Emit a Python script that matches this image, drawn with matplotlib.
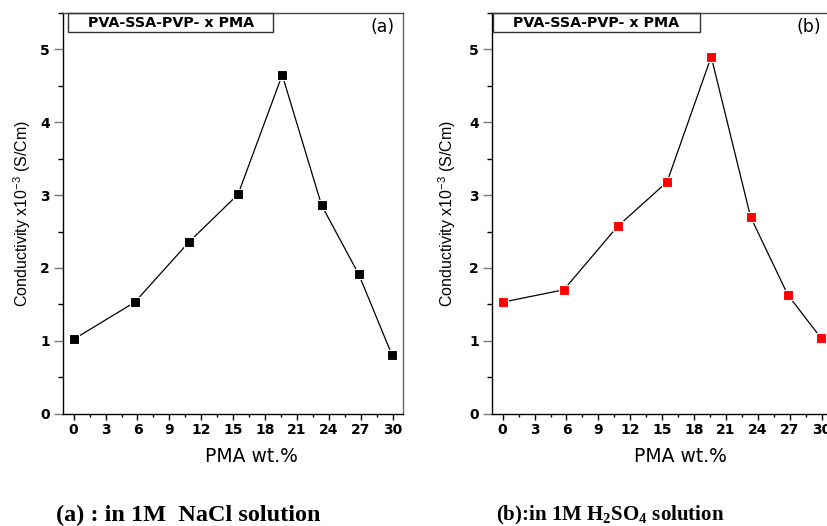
import matplotlib
matplotlib.use("Agg")
import matplotlib.pyplot as plt
from matplotlib.patches import Rectangle
from matplotlib.ticker import MultipleLocator

# PMA content (wt.%) and conductivity (x10^-3 S/Cm)
pma_wt = [0, 5.75, 10.8, 15.45, 19.6, 23.3, 26.8, 29.9]
cond_nacl = [1.02, 1.53, 2.35, 3.01, 4.65, 2.86, 1.91, 0.81]
cond_h2so4 = [1.53, 1.70, 2.57, 3.18, 4.90, 2.70, 1.63, 1.04]

x_ticks = [0, 3, 6, 9, 12, 15, 18, 21, 24, 27, 30]
y_ticks = [0, 1, 2, 3, 4, 5]

legend_text = "PVA-SSA-PVP- x PMA"
panel_tags = ["(a)", "(b)"]
captions = ["(a) : in 1M  NaCl solution",
            r"(b):in 1M H$_{\mathregular{2}}$SO$_{\mathregular{4}}$ solution"]

W, H = 828, 526
fig = plt.figure(figsize=(W / 100, H / 100), dpi=100)

sans = "DejaVu Sans"
arial = "Liberation Sans"
serif = "Liberation Serif"

panels = [
    dict(left=63, y=cond_nacl, color="black", box=(0.015, 0.618), ylab_x=-0.119),
    dict(left=492, y=cond_h2so4, color="#ff0000", box=(0.003, 0.612), ylab_x=-0.131),
]

ax_w, ax_bottom, ax_top = 340, 413.6, 13

for i, p in enumerate(panels):
    ax = fig.add_axes([p["left"] / W, (H - ax_bottom) / H, ax_w / W, (ax_bottom - ax_top) / H])
    ax.plot(pma_wt, p["y"], color="black", lw=0.9, marker="s", ms=7.5,
            mfc=p["color"], mec="white", mew=0.8, zorder=3)
    ax.set_xlim(-1.0, 30.95)
    ax.set_ylim(0, 5.5)
    ax.set_xticks(x_ticks)
    ax.set_yticks(y_ticks)
    ax.xaxis.set_minor_locator(MultipleLocator(1.5))
    ax.yaxis.set_minor_locator(MultipleLocator(0.5))
    ax.tick_params(axis="x", which="major", direction="out", length=4, width=1.0, pad=3,
                   labelsize=10)
    ax.tick_params(axis="x", which="minor", direction="out", length=2.5, width=1.0)
    ax.tick_params(axis="y", which="major", direction="out", length=6.5, width=1.0, pad=3,
                   color="#777777", labelsize=10)
    ax.tick_params(axis="y", which="minor", direction="out", length=3.5, width=1.0)
    for lab in ax.get_xticklabels() + ax.get_yticklabels():
        lab.set_fontweight("bold")
        lab.set_fontfamily(sans)
    for s in ax.spines.values():
        s.set_linewidth(1.0)
    ax.spines["right"].set_color("#666666")
    ax.spines["top"].set_color("#444444")

    ax.set_xlabel("PMA wt.%", fontsize=13.5, family=sans)
    ax.xaxis.set_label_coords(0.553, -0.084)
    ax.set_ylabel(r"Conductivity x10$^{\mathregular{-3}}$ (S/Cm)", fontsize=11.5,
                  family=arial, va="center", ha="center")
    ax.yaxis.set_label_coords(p["ylab_x"], 0.5)

    x0, x1 = p["box"]
    ax.add_patch(Rectangle((x0, 0.9526), x1 - x0, 0.0474, transform=ax.transAxes,
                           fill=False, ec="#333333", lw=1.0, clip_on=False, zorder=4))
    ax.text((x0 + x1) / 2, 0.976, legend_text, transform=ax.transAxes, ha="center",
            va="center", fontsize=10.3, fontweight="bold", family=sans)
    ax.text(0.94 if i == 0 else 0.932, 0.965, panel_tags[i], transform=ax.transAxes,
            ha="center", va="center", fontsize=12.5, family=sans)

fig.text(188 / W, 1 - 515 / H, captions[0], ha="center", va="center", fontsize=17.5,
         fontweight="bold", family=serif)
fig.text(610 / W, 1 - 515 / H, captions[1], ha="center", va="center", fontsize=15,
         fontweight="bold", family=serif)

fig.savefig("out.png", dpi=100)
